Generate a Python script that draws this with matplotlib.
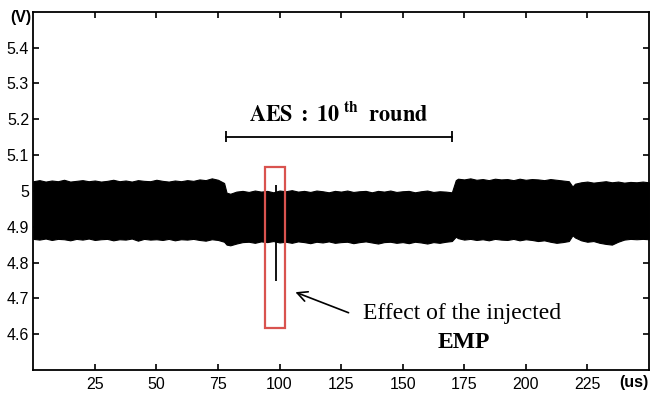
import matplotlib
matplotlib.use("Agg")
import matplotlib.pyplot as plt
from matplotlib.patches import Rectangle

plt.rcParams["font.family"] = ["Liberation Sans", "DejaVu Sans"]
plt.rcParams["mathtext.fontset"] = "stix"

# ── Envelope of the dense supply-voltage ripple ──────────────────────────────
time_us = [
    # before the 10th round
    0, 2.5, 5, 7.5, 10, 12.5, 15, 17.5, 20, 22.5, 25, 27.5, 30, 32.5, 35, 37.5,
    40, 42.5, 45, 47.5, 50, 52.5, 55, 57.5, 60, 62.5, 65, 67.5, 70, 72.5, 75,
    77.5,
    # AES 10th round
    78.5, 80, 82.5, 85, 87.5, 90, 92.5, 95, 97.5, 100, 102.5, 105, 107.5, 110,
    112.5, 115, 117.5, 120, 122.5, 125, 127.5, 130, 132.5, 135, 137.5, 140,
    142.5, 145, 147.5, 150, 152.5, 155, 157.5, 160, 162.5, 165, 167.5, 170,
    # after
    171.6, 172.5, 175, 177.5, 180, 182.5, 185, 187.5, 190, 192.5, 195, 197.5,
    200, 202.5, 205, 207.5, 210, 212.5, 215, 217.5,
    219, 220, 222.5, 225, 227.5, 230, 232.5, 235, 237.5, 240, 242.5, 245,
    247.5, 250,
]
upper_v = [
    5.027, 5.030, 5.026, 5.029, 5.027, 5.031, 5.026, 5.028, 5.030, 5.027, 5.029,
    5.026, 5.028, 5.031, 5.027, 5.029, 5.026, 5.030, 5.028, 5.027, 5.031, 5.028,
    5.026, 5.029, 5.027, 5.030, 5.028, 5.032, 5.030, 5.035, 5.031, 5.022,
    4.995, 4.992, 4.998, 5.000, 4.997, 5.001, 4.998, 5.000, 4.996, 5.001, 4.999,
    5.002, 4.998, 5.000, 4.997, 5.001, 4.999, 4.996, 5.000, 4.998, 5.001, 4.997,
    4.999, 5.000, 4.996, 5.000, 4.998, 5.001, 4.997, 4.999, 5.000, 4.996, 4.999,
    5.001, 4.997, 4.999, 4.998, 4.996,
    5.030, 5.034, 5.032, 5.035, 5.031, 5.033, 5.030, 5.034, 5.032, 5.033, 5.030,
    5.034, 5.031, 5.033, 5.032, 5.030, 5.033, 5.031, 5.029, 5.027,
    5.012, 5.020, 5.024, 5.026, 5.023, 5.025, 5.027, 5.024, 5.026, 5.023, 5.025,
    5.024, 5.026, 5.024,
]
lower_v = [
    4.866, 4.864, 4.867, 4.863, 4.866, 4.865, 4.862, 4.866, 4.864, 4.867, 4.863,
    4.865, 4.866, 4.862, 4.865, 4.864, 4.867, 4.861, 4.866, 4.864, 4.865, 4.863,
    4.866, 4.862, 4.865, 4.864, 4.866, 4.863, 4.861, 4.865, 4.863, 4.858,
    4.850, 4.848, 4.853, 4.857, 4.858, 4.855, 4.859, 4.857, 4.860, 4.856, 4.858,
    4.855, 4.859, 4.857, 4.854, 4.858, 4.856, 4.859, 4.855, 4.857, 4.858, 4.854,
    4.857, 4.859, 4.856, 4.853, 4.857, 4.858, 4.855, 4.857, 4.854, 4.858, 4.856,
    4.853, 4.857, 4.855, 4.858, 4.860,
    4.872, 4.868, 4.864, 4.866, 4.863, 4.865, 4.862, 4.866, 4.864, 4.863, 4.866,
    4.862, 4.865, 4.863, 4.860, 4.862, 4.858, 4.855, 4.857, 4.860,
    4.876, 4.870, 4.862, 4.858, 4.860, 4.855, 4.852, 4.850, 4.858, 4.864, 4.866,
    4.865, 4.866, 4.865,
]

# EMP glitch
spike_t = 98.7
spike_low = 4.748
spike_high = 5.017

# Annotation geometry (data units)
aes_start, aes_end = 78.4, 170.0
box_t0, box_t1 = 94.2, 102.4
box_v0, box_v1 = 4.618, 5.068

xticks = [25, 50, 75, 100, 125, 150, 175, 200, 225]
yticks = [4.6, 4.7, 4.8, 4.9, 5.0, 5.1, 5.2, 5.3, 5.4]
ytick_labels = ["4.6", "4.7", "4.8", "4.9", "5", "5.1", "5.2", "5.3", "5.4"]

fig = plt.figure(figsize=(6.5, 3.94), dpi=100)
ax = fig.add_axes([0.0512, 0.061, 0.947, 0.909])

ax.fill_between(time_us, lower_v, upper_v, color="black", lw=0.8,
                edgecolor="black")
ax.vlines(spike_t, spike_low, spike_high, color="black", lw=1.3)

ax.add_patch(Rectangle((box_t0, box_v0), box_t1 - box_t0, box_v1 - box_v0,
                       fill=False, edgecolor="#d9534f", lw=1.6, zorder=5))

# AES round bracket
ax.plot([aes_start, aes_end], [5.151, 5.151], color="black", lw=1.3)
ax.vlines([aes_start, aes_end], 5.136, 5.167, color="black", lw=1.3)
ax.text((aes_start + aes_end) / 2, 5.215,
        r"$\mathbf{AES\ :\ 10^{\ th}\ \ round}$",
        ha="center", va="center", fontsize=16)

ax.annotate("", xy=(105.4, 4.720), xytext=(129.1, 4.657),
            arrowprops=dict(arrowstyle="->", color="black", lw=1.2,
                            mutation_scale=18))
ax.text(133.8, 4.657, "Effect of the injected", family="Liberation Serif",
        fontsize=17, ha="left", va="center")
ax.text(175.0, 4.576, "EMP", family="Liberation Serif", fontweight="bold",
        fontsize=17, ha="center", va="center")

ax.set_xlim(0, 250)
ax.set_ylim(4.5, 5.5)
ax.set_xticks(xticks)
ax.set_yticks(yticks)
ax.set_yticklabels(ytick_labels)
ax.tick_params(direction="in", top=True, right=True, labelsize=11.5,
               length=4, width=1.2)
ax.tick_params(axis="x", pad=5)
ax.tick_params(axis="y", pad=3)
for s in ax.spines.values():
    s.set_linewidth(1.3)

fig.text(0.016, 0.955, "(V)", fontsize=11.5, fontweight="bold", ha="left",
         va="center")
fig.text(0.997, 0.028, "(us)", fontsize=11.5, fontweight="bold", ha="right",
         va="center")

fig.savefig("out.png", dpi=100)
